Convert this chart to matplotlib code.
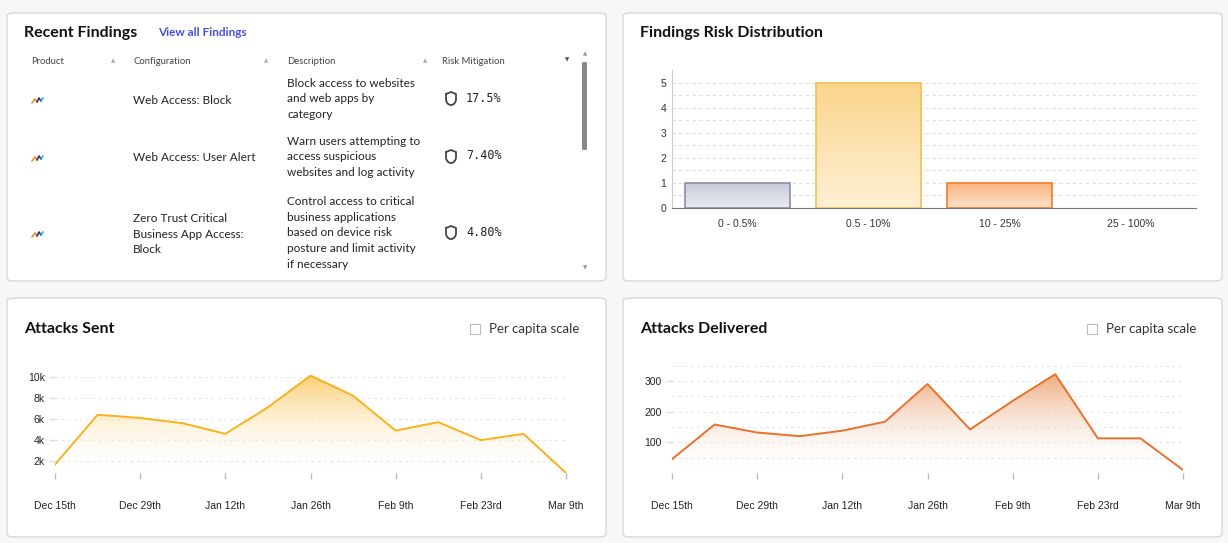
import numpy as np
import matplotlib
matplotlib.use("Agg")
import matplotlib.pyplot as plt
from matplotlib.patches import FancyBboxPatch, Polygon, Rectangle
from matplotlib.lines import Line2D
from matplotlib.colors import LinearSegmentedColormap

W, H = 1228, 543

# data
bins = ["0 - 0.5%", "0.5 - 10%", "10 - 25%", "25 - 100%"]
bin_counts = [1, 5, 1, 0]
dates = ["Dec 15th", "Dec 29th", "Jan 12th", "Jan 26th", "Feb 9th", "Feb 23rd", "Mar 9th"]
attacks_sent = [1.7, 6.4, 6.1, 5.6, 4.6, 7.1, 10.1, 8.2, 4.9, 5.7, 4.0, 4.6, 0.9]
attacks_delivered = [45, 158, 132, 120, 138, 167, 290, 142, 235, 322, 113, 113, 10]
configs = ["Web Access: Block", "Web Access: User Alert",
           "Zero Trust Critical\nBusiness App Access:\nBlock"]
descs = ["Block access to websites\nand web apps by\ncategory",
         "Warn users attempting to\naccess suspicious\nwebsites and log activity",
         "Control access to critical\nbusiness applications\nbased on device risk\nposture and limit activity\nif necessary"]
mitigation = ["17.5%", "7.40%", "4.80%"]

UI = ["Lato", "DejaVu Sans"]
AX = ["Liberation Sans", "DejaVu Sans"]

fig = plt.figure(figsize=(W / 100, H / 100), dpi=100)
fig.patch.set_facecolor("#f7f7f7")


def fx(x):
    return x / W


def fy(y):
    return 1 - y / H


def panel(x0, y0, x1, y1):
    p = FancyBboxPatch((fx(x0), fy(y1)), fx(x1 - x0), (y1 - y0) / H,
                       boxstyle="round,pad=0,rounding_size=0.006",
                       transform=fig.transFigure, fc="white", ec="#d8d8d8", lw=1, zorder=-5)
    fig.add_artist(p)


def txt(x, y, s, size=8, color="#333333", weight="normal", ha="left", va="center", fam=UI, **kw):
    fig.text(fx(x), fy(y), s, fontsize=size, color=color, weight=weight,
             ha=ha, va=va, family=fam, **kw)


def line_px(xs, ys, color, lw=1.2):
    fig.add_artist(Line2D([fx(v) for v in xs], [fy(v) for v in ys], color=color, lw=lw,
                          transform=fig.transFigure, solid_capstyle="round"))


def axes_px(x0, y0, x1, y1):
    return fig.add_axes([fx(x0), fy(y1), fx(x1 - x0), (y1 - y0) / H])


panel(7, 13, 606, 281)
panel(623, 13, 1222, 281)
panel(7, 298, 606, 537)
panel(623, 298, 1222, 537)

# ---- Recent findings table
txt(24, 33, "Recent Findings", 11.5, "#111111", "bold")
txt(158, 33, "View all Findings", 8.5, "#4a4ee0", "bold")
for x, h in zip([31, 133, 287, 442], ["Product", "Configuration", "Description", "Risk Mitigation"]):
    txt(x, 61, h, 6.8, "#444444")
for x in [113, 266, 425]:
    txt(x, 61, "\u25b2", 4, "#aaaaaa", ha="center")
txt(567, 60, "\u25bc", 4, "#555555", ha="center")
txt(585, 54, "\u25b2", 4, "#999999", ha="center")
txt(585, 268, "\u25bc", 4, "#999999", ha="center")
fig.add_artist(FancyBboxPatch((fx(582), fy(150)), fx(5), 88 / H,
                              boxstyle="round,pad=0,rounding_size=0.002",
                              transform=fig.transFigure, fc="#888888", ec="none"))
row_y = [100, 158, 234]
for ry, c, d, m in zip(row_y, configs, descs, mitigation):
    # product icon
    line_px([32, 35, 37], [ry + 3, ry - 1, ry + 2], "#f28c28")
    line_px([37, 39, 41], [ry + 2, ry - 2, ry + 1], "#333366")
    line_px([41, 43], [ry + 1, ry - 2], "#29a9e1")
    txt(133, ry, c, 8.5, "#222222", linespacing=1.55)
    txt(287, ry - 1, d, 8.5, "#222222", linespacing=1.55)
    # shield
    sx, sy = 451, ry - 2
    t = np.linspace(0, np.pi, 30)
    shx = [sx - 5, sx - 5] + list(sx - 5 * np.cos(t)) + [sx + 5, sx + 5, sx, sx - 5]
    shy = [sy - 4, sy + 1] + list(sy + 1 + 6 * np.sin(t)) + [sy + 1, sy - 4, sy - 6, sy - 4]
    shy = [sy - 4, sy + 1] + list(sy + 1 + 6 * np.sin(t)) + [sy + 1, sy - 4, sy - 6, sy - 4]
    line_px(shx, shy, "#444444", 1.3)
    txt(466, ry - 2, m, 8.5, "#222222", fam=["DejaVu Sans Mono"])
fig.add_artist(Rectangle((fx(280), fy(280)), fx(300), 8 / H, transform=fig.transFigure,
                         fc="white", ec="none", zorder=5))

# ---- Findings risk distribution
txt(640, 33, "Findings Risk Distribution", 11.5, "#111111", "bold")
ax = axes_px(672, 70, 1196, 208)
ax.set_facecolor("none")
fills = ["#c7cad8", "#fbd58a", "#fbb27a", "#dddddd"]
edges = ["#8a8fa8", "#f5bd4f", "#f07c2a", "#aaaaaa"]
xs = np.arange(len(bins))
for i, v in enumerate(bin_counts):
    if v <= 0:
        continue
    grad = LinearSegmentedColormap.from_list("g", ["white", fills[i]])
    im = ax.imshow(np.linspace(0.35, 1, 100).reshape(-1, 1), cmap=grad, vmin=0, vmax=1,
                   extent=[i - 0.4, i + 0.4, 0, v], origin="lower", aspect="auto", zorder=2)
    r = ax.bar(i, v, width=0.8, fc="none", ec=edges[i], lw=1.2, zorder=3)
    im.set_clip_path(r.patches[0])
ax.set_xlim(-0.5, 3.5)
ax.set_ylim(0, 5.5)
ax.set_yticks(range(6))
ax.set_yticks(np.arange(0.5, 5.5, 0.5), minor=True)
ax.grid(axis="y", which="both", ls=(0, (3, 3)), color="#dddddd", lw=0.8, zorder=0)
ax.set_xticks(xs, bins)
for s in ["top", "right"]:
    ax.spines[s].set_visible(False)
ax.spines["left"].set_color("#cccccc")
ax.spines["bottom"].set_color("#777777")
ax.tick_params(axis="both", labelsize=7.5, colors="#333333", length=0, pad=8)
ax.tick_params(axis="y", pad=4)
ax.tick_params(which="minor", length=0)
for t in ax.get_xticklabels() + ax.get_yticklabels():
    t.set_family(AX)


def area(x0, y0, x1, y1, vals, ylim, color, fillc, ticks, labels, gridstep):
    a = axes_px(x0, y0, x1, y1)
    a.set_facecolor("none")
    n = len(vals)
    xv = np.arange(n)
    grad = LinearSegmentedColormap.from_list("a", [(1, 1, 1, 0), fillc])
    im = a.imshow(np.linspace(0, 1, 200).reshape(-1, 1), cmap=grad, vmin=0, vmax=1,
                  extent=[0, n - 1, ylim[0], max(vals)], origin="lower", aspect="auto", zorder=1)
    poly = Polygon(np.column_stack([np.r_[0, xv, n - 1], np.r_[ylim[0], vals, ylim[0]]]),
                   closed=True, fc="none", ec="none", transform=a.transData)
    a.add_patch(poly)
    im.set_clip_path(poly)
    a.plot(xv, vals, color=color, lw=1.4, zorder=3)
    a.set_xlim(0, n - 1)
    a.set_ylim(*ylim)
    for g in np.arange(gridstep, ylim[1], gridstep):
        a.axhline(g, color="#e4e4e4", ls=(0, (2, 3)), lw=0.9, zorder=0)
    a.set_yticks(ticks, labels)
    a.set_xticks(np.arange(0, n, 2), dates)
    for s in a.spines.values():
        s.set_visible(False)
    a.tick_params(axis="x", length=4, width=1, color="#bbbbbb", labelsize=7.5, pad=16, labelcolor="#222222")
    a.tick_params(axis="y", length=4, width=1, color="#dddddd", labelsize=7.5, labelcolor="#222222")
    for t in a.get_xticklabels() + a.get_yticklabels():
        t.set_family(AX)
    return a


def header(x, title, cx):
    txt(x, 329, title, 11.5, "#111111", "bold")
    fig.add_artist(Rectangle((fx(cx), fy(334)), fx(10), 10 / H, transform=fig.transFigure,
                             fc="white", ec="#bbbbbb", lw=0.8))
    txt(cx + 19, 329, "Per capita scale", 9.5, "#333333")


header(24, "Attacks Sent", 470)
area(55, 365, 566, 473, attacks_sent, (0.9, 11.1), "#f8b21c", "#fbcf72",
     [2, 4, 6, 8, 10], ["2k", "4k", "6k", "8k", "10k"], 2)
header(640, "Attacks Delivered", 1087)
area(672, 365, 1183, 473, attacks_delivered, (0, 352), "#e8712b", "#eeaa7c",
     [100, 200, 300], ["100", "200", "300"], 50)

fig.savefig("out.png", dpi=100, facecolor=fig.get_facecolor())
